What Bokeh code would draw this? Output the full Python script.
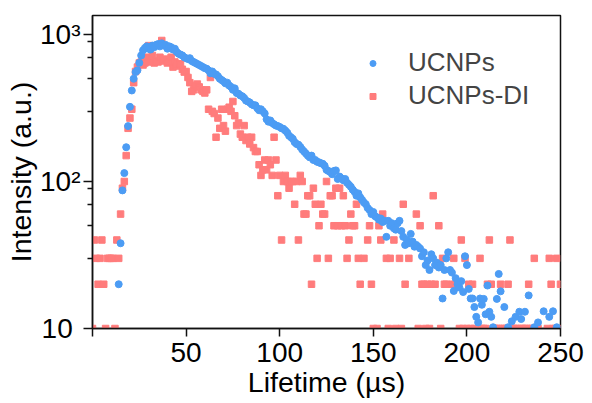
from bokeh.plotting import figure
from bokeh.models import Range1d, FixedTicker, Legend, LegendItem, ColumnDataSource
from bokeh.embed import file_html
from bokeh.resources import INLINE

# ---------------- data ----------------
ucnp_t = list(range(14, 214)) + [214, 216, 217, 218, 220, 222, 224, 226, 228, 229,
                                  231, 233, 236, 238, 241, 244, 246, 248]
ucnp_v = [20, 38, 87, 114, 171, 238, 322, 416, 500, 555, 570, 641, 720, 780, 810, 830,
          800, 790, 840, 820, 850, 860, 830, 870, 840, 850, 800, 830, 820, 790, 800, 760,
          740, 730, 720, 700, 690, 680, 690, 660, 650, 640, 630, 620, 610, 600, 590, 585,
          570, 545, 560, 540, 535, 520, 500, 490, 480, 465, 470, 450, 440, 420, 430, 400,
          395, 385, 380, 370, 355, 350, 345, 335, 330, 330, 315, 305, 310, 300, 290, 265,
          255, 260, 250, 245, 240, 238, 235, 230, 228, 222, 215, 205, 200, 195, 185, 180,
          178, 172, 165, 160, 155, 150, 146, 150, 140, 140, 136, 135, 133, 132, 128, 120,
          118, 116, 112, 118, 119, 104, 108, 105, 102, 104, 98, 95, 92, 88, 85, 80,
          83, 78, 75, 72, 70, 66, 64, 60, 62, 58, 57, 55, 56, 53, 54, 42,
          54, 50, 52, 48, 47, 52, 54, 46, 42, 37, 40, 38, 44, 39, 36, 37,
          36, 35, 31, 33, 27, 29, 25, 32, 30, 27, 28, 26, 27, 16, 25, 30,
          33, 25, 24, 18, 22, 20, 19, 21, 17.7, 31, 27, 18.6, 16, 16, 14, 12,
          11, 16, 14.5, 15.9, 12.5, 19.6, 13, 12,
          10.2, 15.9, 23.5, 17.9, 14, 10.2, 11.2, 12, 13, 11.6,
          13, 16.8, 10.2, 11, 13.1, 12, 13.1, 10.2]

di_t = (list(range(0, 144)) + [145, 147, 148, 149, 150, 152, 153, 154, 155, 157, 158, 159,
                               161, 162, 164, 165, 166, 167, 169, 173, 174, 175, 176, 177,
                               178, 179, 180, 181, 182, 183, 185, 186, 187, 188, 189, 192,
                               193, 194, 196, 197, 198, 199, 200, 201, 202, 203, 204, 206,
                               207, 208, 209, 210, 211, 212, 213, 214, 215, 216, 217, 218,
                               219, 220, 221, 222, 223, 224, 225, 226, 227, 229, 230, 231,
                               232, 233, 234, 235, 236, 237, 238, 243, 244, 245, 246, 247,
                               248, 249, 250])
di_v = [10, 40, 30, 20, 30, 40, 20, 10, 30, 30, 30, 30, 10, 40, 30, 60,
        90, 100, 150, 230, 270, 310, 470, 560, 600, 640, 650, 620, 640, 700, 840, 650,
        720, 640, 660, 650, 700, 910, 660, 680, 640, 650, 700, 600, 650, 610, 630, 630,
        580, 555, 560, 510, 470, 410, 420, 450, 460, 440, 420, 410, 400, 420, 310, 510,
        300, 290, 200, 270, 230, 310, 240, 220, 310, 320, 300, 350, 280, 240, 250, 210,
        200, 240, 190, 200, 180, 200, 170, 160, 160, 130, 110, 120, 140, 120, 140, 130,
        110, 200, 140, 80, 110, 40, 100, 110, 100, 90, 100, 100, 70, 100, 40, 110,
        100, 60, 60, 80, 80, 20, 90, 70, 30, 50, 70, 60, 60, 100, 30, 80,
        80, 50, 90, 50, 90, 50, 80, 50, 30, 40, 60, 50, 50, 70, 30, 20,
        30, 40, 50, 20, 10, 10, 50, 40, 60, 30, 10, 30,
        40, 10, 30, 10, 70, 20, 30, 60, 10, 50, 20, 20,
        10, 20, 10, 20, 80, 20, 50, 10, 30, 20, 20, 20,
        30, 20, 10, 40, 10, 30, 10, 20, 10, 20, 10, 10,
        30, 10, 10, 10, 20, 40, 20, 10, 10, 10, 10, 20,
        10, 10, 10, 20, 40, 10, 10, 10, 10, 10, 10, 10,
        10, 20, 10, 10, 30, 10, 10, 10, 30, 20, 10, 10,
        30, 10, 20]

x_ticks = [0, 50, 100, 150, 200, 250]
y_ticks = [10, 100, 1000]
y_minor = [30, 50, 70, 90, 300, 500, 700, 900]

BLUE = "#4C9CF4"
RED = "#FF7C7C"
FONT = "Liberation Sans"

p = figure(width=592, height=403, x_range=Range1d(0, 250), y_range=Range1d(10, 1346),
           y_axis_type="log", output_backend="svg", toolbar_location=None,
           min_border_left=92, min_border_right=32, min_border_top=15, min_border_bottom=75)
p.xgrid.visible = False
p.ygrid.visible = False
p.outline_line_color = "#111111"
p.outline_line_width = 1.5
p.background_fill_color = "white"
p.border_fill_color = "white"

src_di = ColumnDataSource(dict(t=di_t, v=di_v))
src_uc = ColumnDataSource(dict(t=ucnp_t, v=ucnp_v))
r_di = p.scatter("t", "v", source=src_di, marker="square", size=6.5, color=RED)
r_uc = p.scatter("t", "v", source=src_uc, marker="circle", size=7, color=BLUE)

xa = p.xaxis[0]
xa.ticker = FixedTicker(ticks=x_ticks)
xa.major_label_overrides = {0: ""}
xa.minor_tick_line_color = None
xa.major_tick_out = 8
xa.major_tick_in = 0
xa.axis_label = "Lifetime (µs)"

ya = p.yaxis[0]
ya.ticker = FixedTicker(ticks=y_ticks, minor_ticks=y_minor)
ya.major_label_overrides = {10: "10\u2008", 100: "10²", 1000: "10³"}
ya.major_tick_out = 9
ya.major_tick_in = 0
ya.minor_tick_out = 5
ya.minor_tick_in = 0
ya.axis_label = "Intensity (a.u.)"

for ax in (xa, ya):
    ax.axis_line_width = 1.5
    ax.axis_line_color = "#111111"
    ax.major_tick_line_width = 1.5
    ax.major_tick_line_color = "#111111"
    ax.minor_tick_line_width = 1.5
    ax.major_label_text_font = FONT
    ax.major_label_text_font_size = "28px"
    ax.major_label_text_color = "black"
    ax.axis_label_text_font = FONT
    ax.axis_label_text_font_size = "28.5px"
    ax.axis_label_text_font_style = "normal"
    ax.axis_label_text_color = "black"
ya.minor_tick_line_color = "#111111"
xa.major_label_standoff = 6
xa.axis_label_standoff = 1
ya.major_label_standoff = 3
ya.axis_label_standoff = 0

legend = Legend(items=[LegendItem(label="UCNPs", renderers=[r_uc]),
                       LegendItem(label="UCNPs-DI", renderers=[r_di])],
                location=(273, 217), margin=0, padding=0, spacing=2,
                glyph_width=15, glyph_height=30, label_standoff=28,
                label_text_font=FONT, label_text_font_size="26px",
                border_line_color=None, background_fill_alpha=0)
p.add_layout(legend)

open("out.html", "w").write(file_html(p, INLINE))
